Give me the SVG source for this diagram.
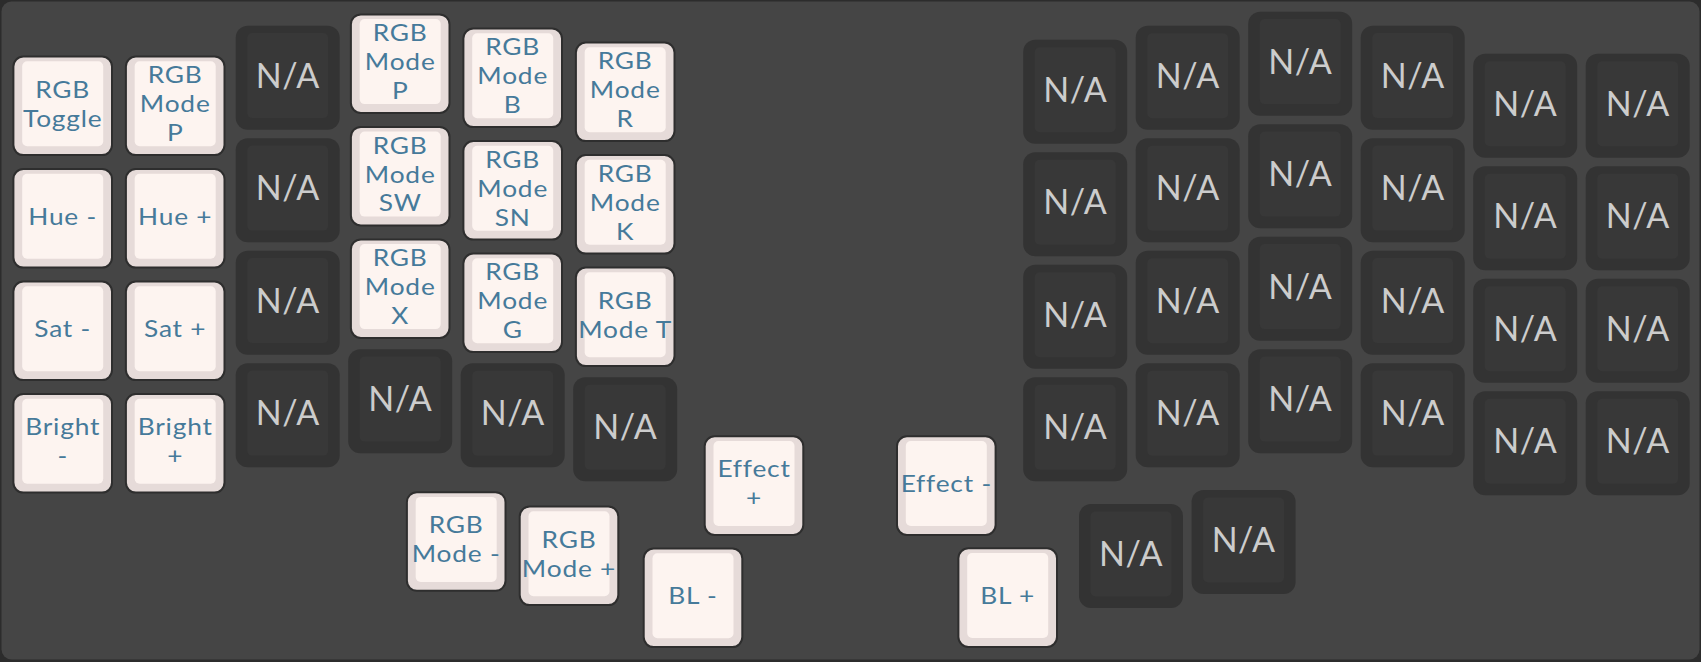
<svg xmlns="http://www.w3.org/2000/svg" width="1701" height="662" viewBox="0 0 1701 662">
<style>
.lo{fill:#e6dbd9;stroke:#2e2e2e;stroke-width:2}
.li{fill:#fdf4f0}
.do{fill:#333333}
.di{fill:#383838}
.lt{font-family:Lato,"Open Sans","Liberation Sans",sans-serif;font-size:23.5px;fill:#467a9a;text-anchor:middle;letter-spacing:0.7px}
.dt{font-family:Lato,"Open Sans","Liberation Sans",sans-serif;font-size:34px;fill:#cccccc;text-anchor:middle;letter-spacing:0.5px}
</style>
<defs>
<g id="lk"><rect class="lo" x="-49.3" y="-49.3" width="98.6" height="98.6" rx="10"/><rect class="li" x="-40.5" y="-44.6" width="81" height="85" rx="5"/></g>
<g id="dk"><rect class="do" x="-52" y="-52" width="104" height="104" rx="12"/><rect class="di" x="-40.5" y="-44.6" width="81" height="85" rx="5"/><text class="dt" x="0" y="9.8">N/A</text></g>
</defs>
<rect width="1701" height="662" fill="#2c2c2c"/>
<rect x="1.5" y="1.5" width="1698" height="658" rx="10" fill="#454545"/>
<g id="left-hand">
<g id="L-c0-r0" transform="translate(62.7,105.8)"><use href="#lk"/><text class="lt" transform="scale(1.12,1)"><tspan x="0" y="-8.2">RGB</tspan><tspan x="0" y="20.8">Toggle</tspan></text></g>
<g id="L-c0-r1" transform="translate(62.7,218.3)"><use href="#lk"/><text class="lt" transform="scale(1.12,1)" x="0" y="6.3">Hue -</text></g>
<g id="L-c0-r2" transform="translate(62.7,330.8)"><use href="#lk"/><text class="lt" transform="scale(1.12,1)" x="0" y="6.3">Sat -</text></g>
<g id="L-c0-r3" transform="translate(62.7,443.3)"><use href="#lk"/><text class="lt" transform="scale(1.12,1)"><tspan x="0" y="-8.2">Bright</tspan><tspan x="0" y="20.8">-</tspan></text></g>
<g id="L-c1-r0" transform="translate(175.2,105.8)"><use href="#lk"/><text class="lt" transform="scale(1.12,1)"><tspan x="0" y="-22.7">RGB</tspan><tspan x="0" y="6.3">Mode</tspan><tspan x="0" y="35.3">P</tspan></text></g>
<g id="L-c1-r1" transform="translate(175.2,218.3)"><use href="#lk"/><text class="lt" transform="scale(1.12,1)" x="0" y="6.3">Hue +</text></g>
<g id="L-c1-r2" transform="translate(175.2,330.8)"><use href="#lk"/><text class="lt" transform="scale(1.12,1)" x="0" y="6.3">Sat +</text></g>
<g id="L-c1-r3" transform="translate(175.2,443.3)"><use href="#lk"/><text class="lt" transform="scale(1.12,1)"><tspan x="0" y="-8.2">Bright</tspan><tspan x="0" y="20.8">+</tspan></text></g>
<g id="L-c2-r0" transform="translate(287.7,77.7)"><use href="#dk"/></g>
<g id="L-c2-r1" transform="translate(287.7,190.2)"><use href="#dk"/></g>
<g id="L-c2-r2" transform="translate(287.7,302.7)"><use href="#dk"/></g>
<g id="L-c2-r3" transform="translate(287.7,415.2)"><use href="#dk"/></g>
<g id="L-c3-r0" transform="translate(400.2,63.7)"><use href="#lk"/><text class="lt" transform="scale(1.12,1)"><tspan x="0" y="-22.7">RGB</tspan><tspan x="0" y="6.3">Mode</tspan><tspan x="0" y="35.3">P</tspan></text></g>
<g id="L-c3-r1" transform="translate(400.2,176.2)"><use href="#lk"/><text class="lt" transform="scale(1.12,1)"><tspan x="0" y="-22.7">RGB</tspan><tspan x="0" y="6.3">Mode</tspan><tspan x="0" y="35.3">SW</tspan></text></g>
<g id="L-c3-r2" transform="translate(400.2,288.7)"><use href="#lk"/><text class="lt" transform="scale(1.12,1)"><tspan x="0" y="-22.7">RGB</tspan><tspan x="0" y="6.3">Mode</tspan><tspan x="0" y="35.3">X</tspan></text></g>
<g id="L-c3-r3" transform="translate(400.2,401.2)"><use href="#dk"/></g>
<g id="L-c4-r0" transform="translate(512.7,77.8)"><use href="#lk"/><text class="lt" transform="scale(1.12,1)"><tspan x="0" y="-22.7">RGB</tspan><tspan x="0" y="6.3">Mode</tspan><tspan x="0" y="35.3">B</tspan></text></g>
<g id="L-c4-r1" transform="translate(512.7,190.3)"><use href="#lk"/><text class="lt" transform="scale(1.12,1)"><tspan x="0" y="-22.7">RGB</tspan><tspan x="0" y="6.3">Mode</tspan><tspan x="0" y="35.3">SN</tspan></text></g>
<g id="L-c4-r2" transform="translate(512.7,302.8)"><use href="#lk"/><text class="lt" transform="scale(1.12,1)"><tspan x="0" y="-22.7">RGB</tspan><tspan x="0" y="6.3">Mode</tspan><tspan x="0" y="35.3">G</tspan></text></g>
<g id="L-c4-r3" transform="translate(512.7,415.3)"><use href="#dk"/></g>
<g id="L-c5-r0" transform="translate(625.2,91.8)"><use href="#lk"/><text class="lt" transform="scale(1.12,1)"><tspan x="0" y="-22.7">RGB</tspan><tspan x="0" y="6.3">Mode</tspan><tspan x="0" y="35.3">R</tspan></text></g>
<g id="L-c5-r1" transform="translate(625.2,204.3)"><use href="#lk"/><text class="lt" transform="scale(1.12,1)"><tspan x="0" y="-22.7">RGB</tspan><tspan x="0" y="6.3">Mode</tspan><tspan x="0" y="35.3">K</tspan></text></g>
<g id="L-c5-r2" transform="translate(625.2,316.8)"><use href="#lk"/><text class="lt" transform="scale(1.12,1)"><tspan x="0" y="-8.2">RGB</tspan><tspan x="0" y="20.8">Mode T</tspan></text></g>
<g id="L-c5-r3" transform="translate(625.2,429.3)"><use href="#dk"/></g>
<g id="L-t0" transform="translate(456.2,541.5)"><use href="#lk"/><text class="lt" transform="scale(1.12,1)"><tspan x="0" y="-8.2">RGB</tspan><tspan x="0" y="20.8">Mode -</tspan></text></g>
<g id="L-t1" transform="translate(569,555.8)"><use href="#lk"/><text class="lt" transform="scale(1.12,1)"><tspan x="0" y="-8.2">RGB</tspan><tspan x="0" y="20.8">Mode +</tspan></text></g>
<g id="L-t2" transform="translate(693,597.8)"><use href="#lk"/><text class="lt" transform="scale(1.12,1)" x="0" y="6.3">BL -</text></g>
<g id="L-t3" transform="translate(754,485.6)"><use href="#lk"/><text class="lt" transform="scale(1.12,1)"><tspan x="0" y="-8.2">Effect</tspan><tspan x="0" y="20.8">+</tspan></text></g>
</g>
<g id="right-hand">
<g id="R-t3" transform="translate(946.3,485.6)"><use href="#lk"/><text class="lt" transform="scale(1.12,1)" x="0" y="6.3">Effect -</text></g>
<g id="R-t2" transform="translate(1007.7,597.6)"><use href="#lk"/><text class="lt" transform="scale(1.12,1)" x="0" y="6.3">BL +</text></g>
<g id="R-t1" transform="translate(1131,556)"><use href="#dk"/></g>
<g id="R-t0" transform="translate(1243.6,542)"><use href="#dk"/></g>
<g id="R-c0-r0" transform="translate(1075.2,91.8)"><use href="#dk"/></g>
<g id="R-c0-r1" transform="translate(1075.2,204.3)"><use href="#dk"/></g>
<g id="R-c0-r2" transform="translate(1075.2,316.8)"><use href="#dk"/></g>
<g id="R-c0-r3" transform="translate(1075.2,429.3)"><use href="#dk"/></g>
<g id="R-c1-r0" transform="translate(1187.7,77.8)"><use href="#dk"/></g>
<g id="R-c1-r1" transform="translate(1187.7,190.3)"><use href="#dk"/></g>
<g id="R-c1-r2" transform="translate(1187.7,302.8)"><use href="#dk"/></g>
<g id="R-c1-r3" transform="translate(1187.7,415.3)"><use href="#dk"/></g>
<g id="R-c2-r0" transform="translate(1300.2,63.7)"><use href="#dk"/></g>
<g id="R-c2-r1" transform="translate(1300.2,176.2)"><use href="#dk"/></g>
<g id="R-c2-r2" transform="translate(1300.2,288.7)"><use href="#dk"/></g>
<g id="R-c2-r3" transform="translate(1300.2,401.2)"><use href="#dk"/></g>
<g id="R-c3-r0" transform="translate(1412.7,77.7)"><use href="#dk"/></g>
<g id="R-c3-r1" transform="translate(1412.7,190.2)"><use href="#dk"/></g>
<g id="R-c3-r2" transform="translate(1412.7,302.7)"><use href="#dk"/></g>
<g id="R-c3-r3" transform="translate(1412.7,415.2)"><use href="#dk"/></g>
<g id="R-c4-r0" transform="translate(1525.2,105.8)"><use href="#dk"/></g>
<g id="R-c4-r1" transform="translate(1525.2,218.3)"><use href="#dk"/></g>
<g id="R-c4-r2" transform="translate(1525.2,330.8)"><use href="#dk"/></g>
<g id="R-c4-r3" transform="translate(1525.2,443.3)"><use href="#dk"/></g>
<g id="R-c5-r0" transform="translate(1637.7,105.8)"><use href="#dk"/></g>
<g id="R-c5-r1" transform="translate(1637.7,218.3)"><use href="#dk"/></g>
<g id="R-c5-r2" transform="translate(1637.7,330.8)"><use href="#dk"/></g>
<g id="R-c5-r3" transform="translate(1637.7,443.3)"><use href="#dk"/></g>
</g>
</svg>
